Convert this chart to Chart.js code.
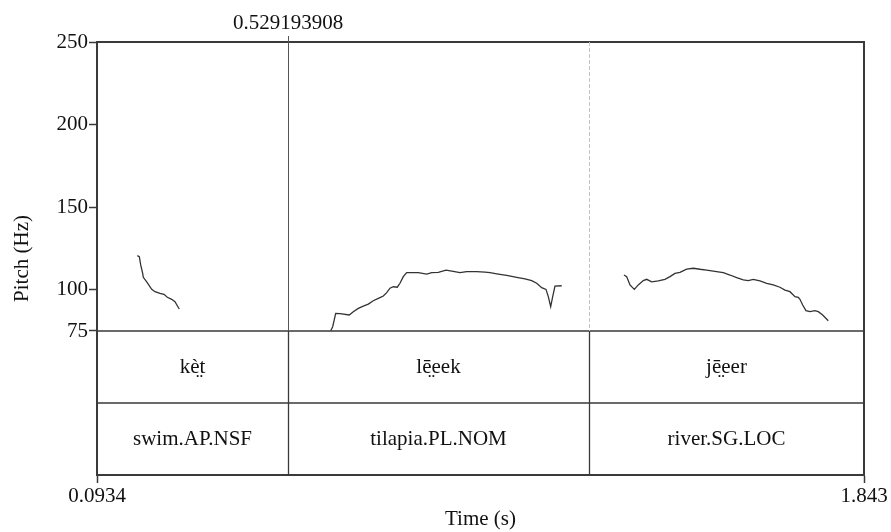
<!DOCTYPE html>
<html>
<head>
<meta charset="utf-8">
<script src="https://cdn.jsdelivr.net/npm/chart.js@4.4.0/dist/chart.umd.min.js"></script>
<style>
  html, body { margin: 0; padding: 0; background: #fff; }
  #wrap { width: 891px; height: 532px; position: relative; }
</style>
</head>
<body>
<div id="wrap"><canvas id="pitchChart"></canvas></div>
<script>
// Pitch tracks, one per word (time in s, pitch in Hz)
const ketTime = [0.1853, 0.1899, 0.1931, 0.1976, 0.1990, 0.2068, 0.2182, 0.2257, 0.2371, 0.2462, 0.2538, 0.2638, 0.2713, 0.2766, 0.2811];
const ketPitch = [120.6, 120.0, 115.0, 109.9, 107.5, 104.8, 100.2, 98.8, 97.8, 97.2, 95.4, 94.2, 92.7, 90.3, 88.3];

const leeekTime = [0.6265, 0.6310, 0.6379, 0.6477, 0.6689, 0.6780, 0.6894, 0.7008, 0.7123, 0.7236, 0.7351, 0.7465, 0.7542, 0.7617, 0.7693, 0.7784, 0.7845, 0.7921, 0.7998, 0.8263, 0.8454, 0.8569, 0.8719, 0.8895, 0.9061, 0.9214, 0.9367, 0.9595, 0.9784, 0.9898, 1.0088, 1.0279, 1.0507, 1.0697, 1.0850, 1.0964, 1.1078, 1.1176, 1.1229, 1.1283, 1.1329, 1.1381, 1.1534];
const leeekPitch = [75.2, 77.6, 85.7, 85.5, 84.7, 86.7, 88.7, 90.1, 91.3, 93.3, 94.8, 96.2, 98.2, 100.9, 101.8, 101.5, 103.9, 107.9, 110.3, 110.3, 109.5, 110.3, 110.5, 111.8, 111.1, 110.3, 111.0, 111.0, 110.7, 110.3, 109.5, 108.7, 107.5, 106.5, 105.5, 103.9, 101.2, 100.2, 95.8, 89.7, 95.8, 102.2, 102.4];

const jeeerTime = [1.2955, 1.3017, 1.3092, 1.3190, 1.3281, 1.3395, 1.3473, 1.3587, 1.3737, 1.3890, 1.4004, 1.4118, 1.4232, 1.4385, 1.4536, 1.4688, 1.4841, 1.5030, 1.5220, 1.5373, 1.5526, 1.5676, 1.5790, 1.5904, 1.6057, 1.6210, 1.6360, 1.6513, 1.6627, 1.6741, 1.6856, 1.6931, 1.6969, 1.7031, 1.7106, 1.7197, 1.7311, 1.7387, 1.7487, 1.7615];
const jeeerPitch = [108.9, 107.9, 102.9, 100.2, 102.9, 105.5, 106.3, 104.8, 105.3, 106.3, 107.9, 109.9, 110.5, 112.5, 113.0, 112.4, 111.9, 111.1, 110.3, 108.9, 107.3, 105.9, 105.5, 106.3, 105.3, 103.9, 102.9, 101.5, 99.8, 98.8, 95.8, 95.4, 94.2, 90.7, 87.3, 86.7, 87.3, 86.7, 84.7, 81.2];

// Axes
const timeStart = 0.0934;
const timeEnd = 1.843;
const xTickValues = [0.0934, 1.843];
const xTickLabels = ['0.0934', '1.843'];
const yTickValues = [75, 100, 150, 200, 250];
const pitchFloor = 75;
const pitchCeiling = 250;

// TextGrid: interval boundaries, two tiers, and the selected boundary
const tierBounds = [0.0934, 0.529193908, 1.2157, 1.843];
const wordTier = ['k\u0065\u0300\u0324t', 'l\u0065\u0304\u0324eek', 'j\u0065\u0304\u0324eer'];
const glossTier = ['swim.AP.NSF', 'tilapia.PL.NOM', 'river.SG.LOC'];
const selectedBound = 0.529193908;
const selectedLabel = '0.529193908';

// Tiers live below the pitch floor on the same y scale (each tier ~43.6 Hz tall)
const tierSpan = 43.6;
const yMin = pitchFloor - 2 * tierSpan;

const FONT = "'Liberation Serif', 'Times New Roman', serif";
const FONT_SIZE = 21;
const INK = '#111';
const FRAME = '#3a3a3a';

function track(times, pitches) {
    return times.map((t, i) => ({ x: t, y: pitches[i] }));
}

// Draws the frame, tier grid, boundaries and tier texts (Praat style)
const textGridPlugin = {
    id: 'textGrid',
    beforeDatasetsDraw(chart) {
        const { ctx, chartArea: ca, scales: { x, y } } = chart;
        const yFloor = y.getPixelForValue(pitchFloor);
        const yMid = y.getPixelForValue(pitchFloor - tierSpan);
        const yBot = y.getPixelForValue(yMin);

        ctx.save();
        // top and right frame
        ctx.strokeStyle = FRAME;
        ctx.lineWidth = 2;
        ctx.beginPath();
        ctx.moveTo(ca.left, ca.top);
        ctx.lineTo(ca.right, ca.top);
        ctx.lineTo(ca.right, yBot);
        ctx.stroke();

        // tier separators
        ctx.lineWidth = 1.3;
        ctx.beginPath();
        ctx.moveTo(ca.left, yFloor);
        ctx.lineTo(ca.right, yFloor);
        ctx.moveTo(ca.left, yMid);
        ctx.lineTo(ca.right, yMid);
        ctx.stroke();

        // interior boundaries
        tierBounds.slice(1, -1).forEach(b => {
            const px = Math.round(x.getPixelForValue(b)) + 0.5;
            ctx.strokeStyle = FRAME;
            ctx.lineWidth = 1.3;
            ctx.setLineDash([]);
            ctx.beginPath();
            ctx.moveTo(px, yFloor);
            ctx.lineTo(px, yBot);
            ctx.stroke();

            ctx.beginPath();
            if (b === selectedBound) {
                ctx.strokeStyle = '#555';
                ctx.lineWidth = 1;
                ctx.moveTo(px, ca.top - 6);
            } else {
                ctx.strokeStyle = '#c4c4c4';
                ctx.lineWidth = 1;
                ctx.setLineDash([4, 2]);
                ctx.moveTo(px, ca.top);
            }
            ctx.lineTo(px, yFloor);
            ctx.stroke();
        });
        ctx.setLineDash([]);

        // tier labels
        ctx.fillStyle = INK;
        ctx.font = FONT_SIZE + 'px ' + FONT;
        ctx.textAlign = 'center';
        ctx.textBaseline = 'middle';
        for (let i = 0; i < tierBounds.length - 1; i++) {
            const cx = (x.getPixelForValue(tierBounds[i]) + x.getPixelForValue(tierBounds[i + 1])) / 2;
            ctx.fillText(wordTier[i], cx, (yFloor + yMid) / 2);
            ctx.fillText(glossTier[i], cx, (yMid + yBot) / 2);
        }

        // selected boundary time above the frame
        ctx.fillText(selectedLabel, x.getPixelForValue(selectedBound), ca.top - 19);
        ctx.restore();
    }
};

function initChart() {
    const ctx = document.getElementById('pitchChart').getContext('2d');
    const lineStyle = {
        showLine: true,
        borderColor: '#333',
        borderWidth: 1.3,
        pointRadius: 0,
        tension: 0,
        fill: false
    };

    new Chart(ctx, {
        type: 'scatter',
        data: {
            datasets: [
                { label: 'kèt', data: track(ketTime, ketPitch), ...lineStyle },
                { label: 'lēeek', data: track(leeekTime, leeekPitch), ...lineStyle },
                { label: 'jēeer', data: track(jeeerTime, jeeerPitch), ...lineStyle }
            ]
        },
        options: {
            responsive: true,
            maintainAspectRatio: false,
            devicePixelRatio: 1,
            animation: false,
            layout: { padding: { top: 42, right: 27, bottom: 0, left: 0 } },
            plugins: {
                legend: { display: false },
                tooltip: { enabled: false }
            },
            scales: {
                x: {
                    type: 'linear',
                    min: timeStart,
                    max: timeEnd,
                    afterBuildTicks: s => { s.ticks = xTickValues.map(v => ({ value: v })); },
                    afterFit: s => { s.height = 57; },
                    ticks: {
                        autoSkip: false,
                        maxRotation: 0,
                        padding: 1,
                        color: INK,
                        font: { family: FONT, size: FONT_SIZE },
                        callback: (v, i) => xTickLabels[i]
                    },
                    grid: { drawOnChartArea: false, drawTicks: true, tickLength: 8, color: FRAME, tickWidth: 1.5 },
                    border: { display: true, color: FRAME, width: 2 },
                    title: {
                        display: true,
                        text: 'Time (s)',
                        color: INK,
                        font: { family: FONT, size: FONT_SIZE },
                        padding: { top: 0, bottom: 0 }
                    }
                },
                y: {
                    type: 'linear',
                    min: yMin,
                    max: pitchCeiling,
                    afterBuildTicks: s => { s.ticks = yTickValues.map(v => ({ value: v })); },
                    afterFit: s => { s.width = 97; },
                    ticks: {
                        autoSkip: false,
                        padding: 1,
                        color: INK,
                        font: { family: FONT, size: FONT_SIZE },
                        callback: v => String(v)
                    },
                    grid: { drawOnChartArea: false, drawTicks: true, tickLength: 8, color: FRAME, tickWidth: 1.5 },
                    border: { display: true, color: FRAME, width: 2 },
                    title: {
                        display: true,
                        text: 'Pitch (Hz)',
                        color: INK,
                        font: { family: FONT, size: FONT_SIZE },
                        padding: { top: 10, bottom: 0 }
                    }
                }
            }
        },
        plugins: [textGridPlugin]
    });
}

document.addEventListener('DOMContentLoaded', initChart);
</script>
</body>
</html>
